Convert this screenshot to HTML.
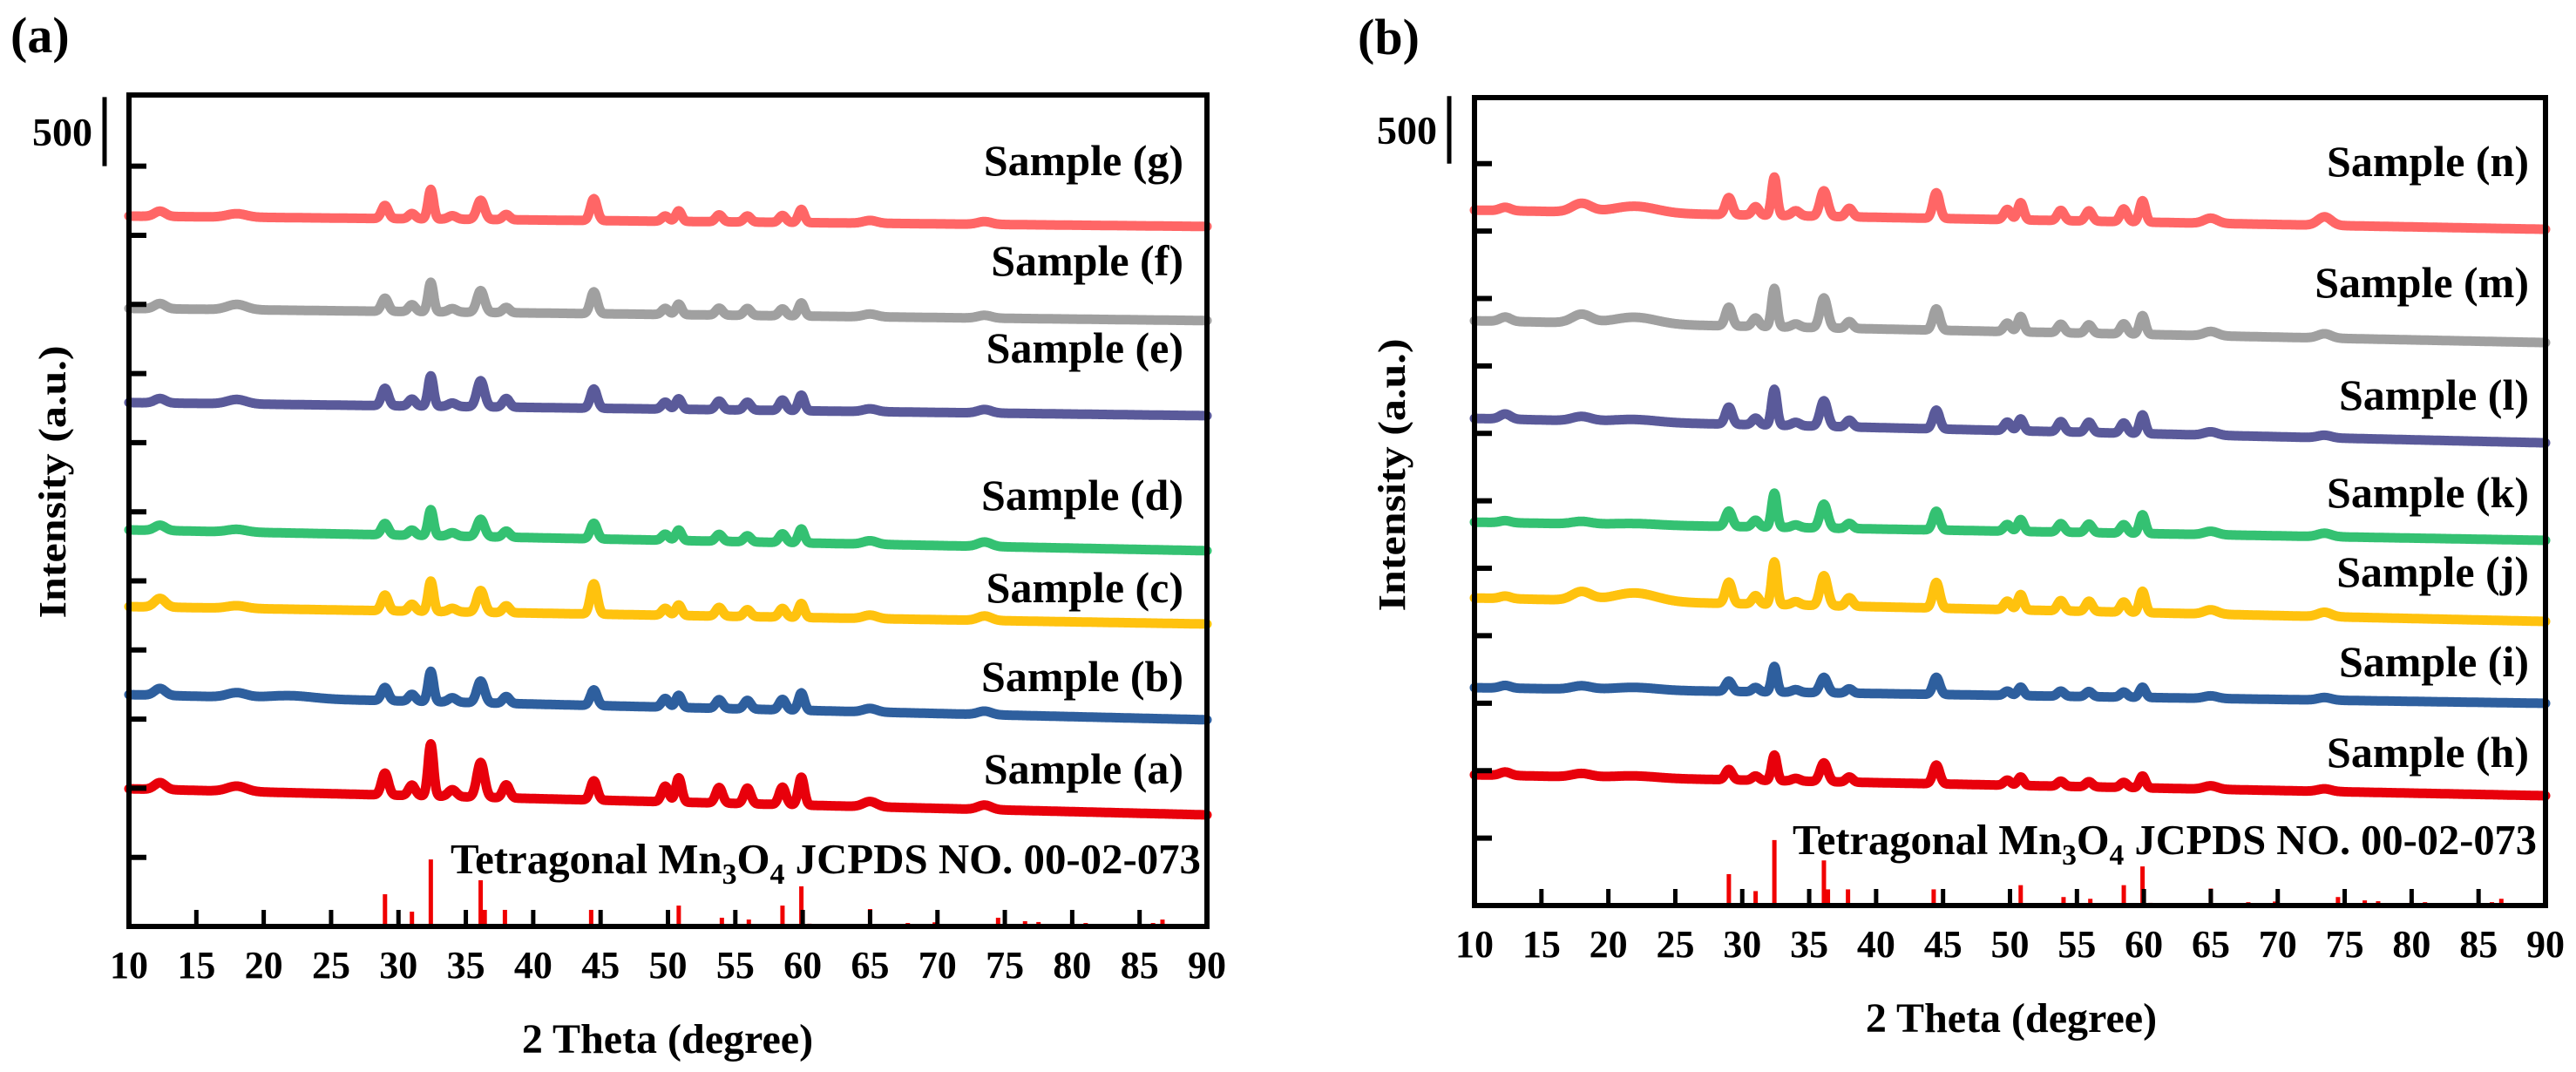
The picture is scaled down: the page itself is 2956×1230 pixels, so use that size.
<!DOCTYPE html>
<html><head><meta charset="utf-8"><title>XRD patterns</title>
<style>
html,body{margin:0;padding:0;background:#fff;}
svg{display:block;font-family:"Liberation Serif",serif;}
text{font-weight:bold;fill:#000;}
</style></head>
<body>
<svg id="fig" width="2956" height="1230" viewBox="0 0 2956 1230" xmlns="http://www.w3.org/2000/svg">
<rect width="2956" height="1230" fill="#fff"/>
<g id="panelA"></g>
<g id="panelB"></g>
</svg>
<script>
// ---------- data ----------
const xTickLabels = [10,15,20,25,30,35,40,45,50,55,60,65,70,75,80,85,90];
const yTickValues = [500,1000,1500,2000,2500,3000,3500,4000,4500,5000,5500];
const peakPos   = [12.3,18,22,29,31,32.4,34,36.1,38,44.5,49.8,50.8,53.8,55.9,58.5,59.9,65,73.5];
const peakWidth = [0.4,0.7,1.6,0.25,0.25,0.2,0.3,0.28,0.25,0.25,0.25,0.22,0.25,0.25,0.25,0.22,0.5,0.5];

// panel (a) samples
const namesA   = ["Sample (a)","Sample (b)","Sample (c)","Sample (d)","Sample (e)","Sample (f)","Sample (g)"];
const colorsA  = ["#e8000b","#2e5f9e","#ffc20e","#34c172","#5a5a9a","#a0a0a0","#ff6666"];
const startA   = [996,1677,2314,2869,3790,4471,5139];
const endA     = [807,1495,2188,2718,3695,4383,5064];
const heightsA = [
 [50,38,0,158,76,378,50,252,95,139,113,176,113,113,126,202,38,32],
 [50,32,20,95,50,220,32,158,50,113,63,88,63,63,76,126,25,25],
 [63,19,0,113,50,220,25,158,50,220,50,76,63,50,63,101,25,32],
 [38,19,0,82,38,189,25,126,44,113,44,76,50,44,63,101,25,32],
 [32,32,0,126,50,220,25,189,63,139,50,76,63,57,76,113,20,25],
 [38,38,0,95,50,214,25,158,38,158,44,76,50,50,50,95,20,20],
 [38,25,0,95,38,214,25,139,38,158,38,76,50,44,50,95,20,20]
];
const labelYA  = [882,776,674,568,399,299,184];

// panel (b) samples
const namesB   = ["Sample (h)","Sample (i)","Sample (j)","Sample (k)","Sample (l)","Sample (m)","Sample (n)"];
const colorsB  = ["#e8000b","#2e5f9e","#ffc20e","#34c172","#5a5a9a","#a0a0a0","#ff6666"];
const startB   = [969,1615,2280,2842,3611,4335,5155];
const endB     = [814,1499,2106,2707,3430,4173,5013];
const heightsB = [
 [25,25,15,76,32,190,20,139,38,139,38,63,38,38,38,88,25,19],
 [20,25,19,76,32,190,20,114,32,127,32,63,38,38,38,76,19,19],
 [19,63,63,158,63,316,25,222,63,190,63,114,76,76,76,158,32,32],
 [15,19,10,114,50,253,20,177,38,139,50,88,63,63,63,139,25,25],
 [38,32,19,127,50,266,25,190,50,139,63,88,76,76,76,139,25,19],
 [32,63,50,139,63,285,25,222,50,158,63,114,63,63,76,139,32,32],
 [25,63,50,127,63,285,38,190,63,190,76,127,76,76,95,158,38,63]
];
const labelYB  = [863,759,656,565,453,324,185];

// JCPDS reference sticks
const refPos    = [29,31,32.4,36.1,36.4,37.9,44.3,50.0,50.8,54,56,58.5,59.9,60.5,65,67.8,69.8,74.5,76.5,77.5,80,81,86,86.7];
const refHeight = [233,107,485,334,120,120,120,40,151,63,50,151,290,20,126,25,30,63,38,32,32,25,25,50];

// ---------- drawing ----------
const NS = "http://www.w3.org/2000/svg";
function mk(tag, attrs, parent){
  const e = document.createElementNS(NS, tag);
  for (const k in attrs) e.setAttribute(k, attrs[k]);
  parent.appendChild(e);
  return e;
}

function drawPanel(g, cfg, names, colors, starts, ends, heights, labelY){
  const xS = v => cfg.x0 + (v - 10) / 80 * (cfg.x1 - cfg.x0);
  const yS = c => cfg.yBot - c / cfg.yMax * (cfg.yBot - cfg.yTop);

  const pl = mk("text", {x: cfg.letterX, y: cfg.letterY, "font-size": 58, "font-weight": "normal"}, g);
  
  
  pl.textContent = cfg.letter;

  for (let s = 0; s < names.length; s++){
    let d = "";
    for (let i = 0; i <= 1600; i++){
      const x = 10 + i * 0.05;
      let c = starts[s] + (ends[s] - starts[s]) * (x - 10) / 80;
      for (let p = 0; p < peakPos.length; p++){
        const dx = (x - peakPos[p]) / peakWidth[p];
        if (Math.abs(dx) < 6) c += heights[s][p] * Math.exp(-0.5 * dx * dx);
      }
      d += (i ? "L" : "M") + xS(x).toFixed(1) + "," + yS(c).toFixed(1);
    }
    const path = mk("path", {d: d, fill: "none", stroke: colors[s], "stroke-width": 11, "stroke-linejoin": "round", "stroke-linecap": "round"}, g);
    
    

    const lab = mk("text", {x: cfg.labelRight, y: labelY[s] + 17, "font-size": 50, "text-anchor": "end"}, g);
    
    
    lab.textContent = names[s];
  }

  for (let r = 0; r < refPos.length; r++){
    const st = mk("line", {x1: xS(refPos[r]), x2: xS(refPos[r]), y1: yS(0), y2: yS(refHeight[r]), stroke: "#f00000", "stroke-width": 5}, g);
    
    
  }
  const ref = mk("text", {x: cfg.refX, y: cfg.refY + 17, "font-size": 49, textLength: cfg.refLen, lengthAdjust: "spacingAndGlyphs"}, g);
  
  
  ref.innerHTML = 'Tetragonal Mn<tspan font-size="34" dy="12">3</tspan><tspan dy="-12">O</tspan><tspan font-size="34" dy="12">4</tspan><tspan dy="-12"> JCPDS NO. 00-02-073</tspan>';

  for (const v of yTickValues){
    const t = mk("line", {x1: cfg.x0, x2: cfg.x0 + 20, y1: yS(v), y2: yS(v), stroke: "#000", "stroke-width": 6}, g);
    
    
  }
  for (const v of xTickLabels){
    if (v > 10 && v < 90){
      const t = mk("line", {x1: xS(v), x2: xS(v), y1: cfg.yBot, y2: cfg.yBot - 19, stroke: "#000", "stroke-width": 5}, g);
      
      
    }
    const tl = mk("text", {x: xS(v), y: cfg.yBot + 59, "font-size": 44, "text-anchor": "middle"}, g);
    
    
    tl.textContent = v;
  }

  const fr = mk("rect", {x: cfg.x0, y: cfg.yTop, width: cfg.x1 - cfg.x0, height: cfg.yBot - cfg.yTop, fill: "none", stroke: "#000", "stroke-width": 6}, g);
  
  

  const sb = mk("line", {x1: cfg.barX, x2: cfg.barX, y1: yS(6000), y2: yS(5500), stroke: "#000", "stroke-width": 5}, g);
  
  
  const sbl = mk("text", {x: cfg.barX - 14, y: (yS(6000) + yS(5500)) / 2 + 16, "font-size": 46, "text-anchor": "end"}, g);
  
  
  sbl.textContent = "500";

  const xt = mk("text", {x: cfg.xTitleX, y: cfg.xTitleY + 16, "font-size": 48, "text-anchor": "middle"}, g);
  
  
  xt.textContent = "2 Theta (degree)";
  const yt = mk("text", {x: 0, y: 0, "font-size": 44, "text-anchor": "middle", textLength: 313, lengthAdjust: "spacingAndGlyphs",
    transform: "translate(" + (cfg.yTitleX + 15) + "," + cfg.yTitleY + ") rotate(-90)"}, g);
  
  
  yt.textContent = "Intensity (a.u.)";
}

drawPanel(document.getElementById("panelA"),
  {x0:148, x1:1385, yTop:109, yBot:1063, yMax:6015, letter:"(a)", letterX:12, letterY:60,
   labelRight:1358, refX:517, refY:985, refLen:861, barX:120, xTitleX:766, xTitleY:1192, yTitleX:60, yTitleY:553},
  namesA, colorsA, startA, endA, heightsA, labelYA);

drawPanel(document.getElementById("panelB"),
  {x0:1692, x1:2921, yTop:112, yBot:1039, yMax:5989, letter:"(b)", letterX:1558, letterY:62,
   labelRight:2902, refX:2057, refY:963, refLen:854, barX:1663, xTitleX:2308, xTitleY:1168, yTitleX:1597, yTitleY:545},
  namesB, colorsB, startB, endB, heightsB, labelYB);
</script>
</body></html>
